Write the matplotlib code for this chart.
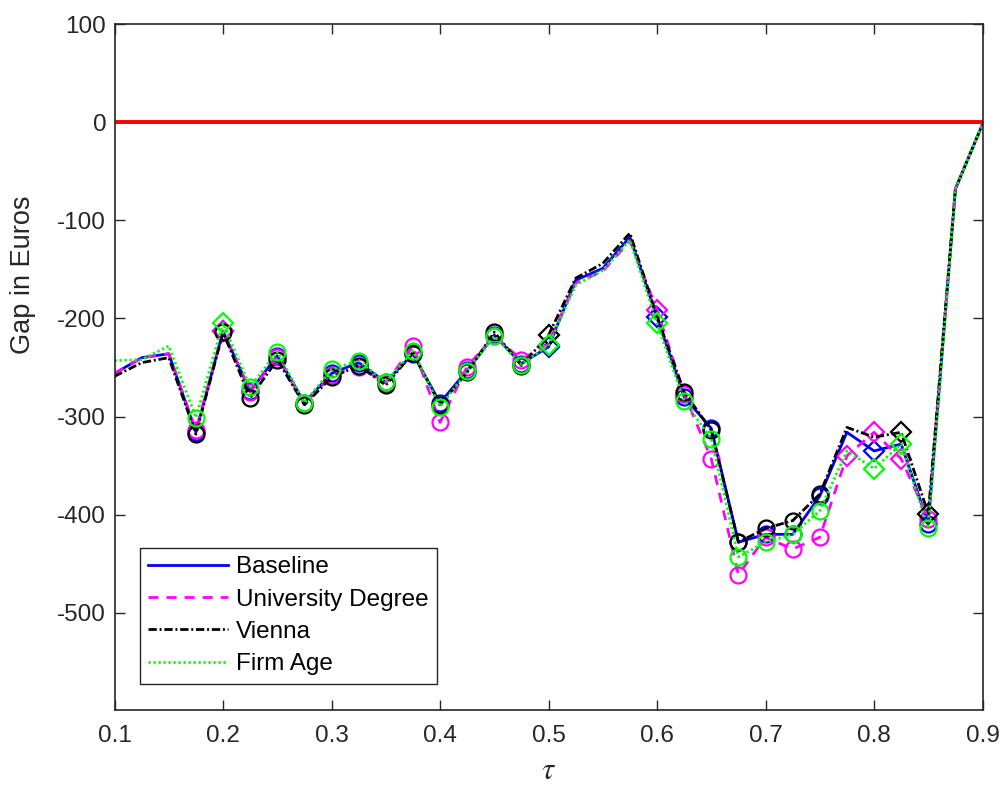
import matplotlib
matplotlib.use("Agg")
import matplotlib.pyplot as plt
import numpy as np

plt.rcParams['font.family'] = ['Liberation Sans', 'DejaVu Sans']
plt.rcParams['axes.unicode_minus'] = False
plt.rcParams['mathtext.fontset'] = 'stix'

tau = [0.1, 0.125, 0.15, 0.175, 0.2, 0.225, 0.25, 0.275, 0.3, 0.325, 0.35,
       0.375, 0.4, 0.425, 0.45, 0.475, 0.5, 0.525, 0.55, 0.575, 0.6, 0.625,
       0.65, 0.675, 0.7, 0.725, 0.75, 0.775, 0.8, 0.825, 0.85, 0.875, 0.9]

baseline = [-256, -240, -236, -316, -213, -274, -238, -286, -256, -245, -265,
            -236, -286, -253, -217, -246, -229, -161, -149, -117, -199, -280,
            -312, -428, -420, -420, -381, -316, -335, -328, -409, -68, -2]
university = [-256, -240, -236, -314, -213, -275, -239, -287, -258, -249, -266,
              -228, -306, -249, -218, -242, -225, -164, -152, -121, -191, -277,
              -343, -461, -423, -435, -423, -340, -316, -343, -404, -68, -2]
vienna = [-259, -245, -240, -318, -214, -281, -242, -288, -260, -248, -268,
          -235, -288, -255, -214, -248, -217, -159, -144, -113, -198, -275,
          -314, -428, -414, -406, -379, -311, -321, -316, -399, -68, -2]
firm_age = [-243, -242, -228, -301, -205, -270, -234, -286, -252, -243, -265,
            -233, -290, -254, -218, -247, -227, -166, -151, -120, -205, -284,
            -323, -443, -428, -420, -396, -335, -353, -328, -414, -68, -2]

# per-point marker codes: 'o' circle, 'd' diamond, ' ' none
mk_baseline   = list("   od" + "ooooooooooo" + "d" + "   " + "d" + "oooooo" + " d o  ")
mk_university = list("   od" + "ooooooooooo" + " " + "   " + "d" + "oooooo" + "dddo  ")
mk_vienna     = list("   oo" + "ooooooooooo" + "d" + "   " + " " + "oooooo" + "  dd  ")
mk_firm_age   = list("   od" + "ooooooooooo" + "d" + "   " + "d" + "oooooo" + " ddo  ")

labels = ["Baseline", "University Degree", "Vienna", "Firm Age"]

fig = plt.figure(figsize=(10.03, 7.87), dpi=100)
ax = fig.add_axes([0.1142, 0.0978, 0.8654, 0.8717])

x = np.array(tau)
series = [
    (baseline, mk_baseline, (0, 0, 1), '-'),
    (university, mk_university, (1, 0, 1), (0, (3.6, 2.9))),
    (vienna, mk_vienna, (0, 0, 0), (0, (3.0, 1.0, 0.7, 1.0))),
    (firm_age, mk_firm_age, (0, 1, 0), (0, (0.8, 1.0))),
]
handles = []
for (vals, mks, col, ls), lab in zip(series, labels):
    y = np.array(vals, dtype=float)
    h, = ax.plot(x, y, color=col, linestyle=ls, linewidth=2, label=lab)
    handles.append(h)
    mks = np.array(mks)
    for code, m, ms in (('o', 'o', 11.5), ('d', 'D', 10)):
        sel = mks == code
        if sel.any():
            ax.plot(x[sel], y[sel], linestyle='none', marker=m, markersize=ms,
                    markerfacecolor='none', markeredgecolor=col, markeredgewidth=1.6)

ax.axhline(0, color=(1, 0, 0), linewidth=2.8)

ax.set_xlim(0.1, 0.9)
ax.set_ylim(-599, 100)
ax.set_xticks([0.1, 0.2, 0.3, 0.4, 0.5, 0.6, 0.7, 0.8, 0.9])
ax.set_xticklabels(["0.1", "0.2", "0.3", "0.4", "0.5", "0.6", "0.7", "0.8", "0.9"])
ax.set_yticks([-500, -400, -300, -200, -100, 0, 100])
ax.set_yticklabels(["-500", "-400", "-300", "-200", "-100", "0", "100"])

edge = (0.15, 0.15, 0.15)
for s in ax.spines.values():
    s.set_color(edge)
    s.set_linewidth(1.2)
ax.tick_params(direction='in', top=True, right=True, length=7, width=1.0,
               color=edge, labelsize=17.5, labelcolor=edge)
ax.tick_params(axis='x', pad=11)
ax.tick_params(axis='y', pad=6)

ax.set_ylabel("Gap in Euros", fontsize=19.5, color=edge)
ax.yaxis.set_label_coords(-0.09, 0.634)
ax.set_xlabel(r"$\tau$", fontsize=22, color=edge)
ax.xaxis.set_label_coords(0.5, -0.067)

leg = ax.legend(handles=handles, loc='lower left', bbox_to_anchor=(0.029, 0.038),
                fontsize=17.5, frameon=True, fancybox=False, framealpha=1,
                edgecolor=edge, handlelength=3.3, handletextpad=0.3,
                labelspacing=0.43, borderpad=0.35, borderaxespad=0)
leg.get_frame().set_linewidth(1.0)

fig.savefig("out.png", dpi=100)
